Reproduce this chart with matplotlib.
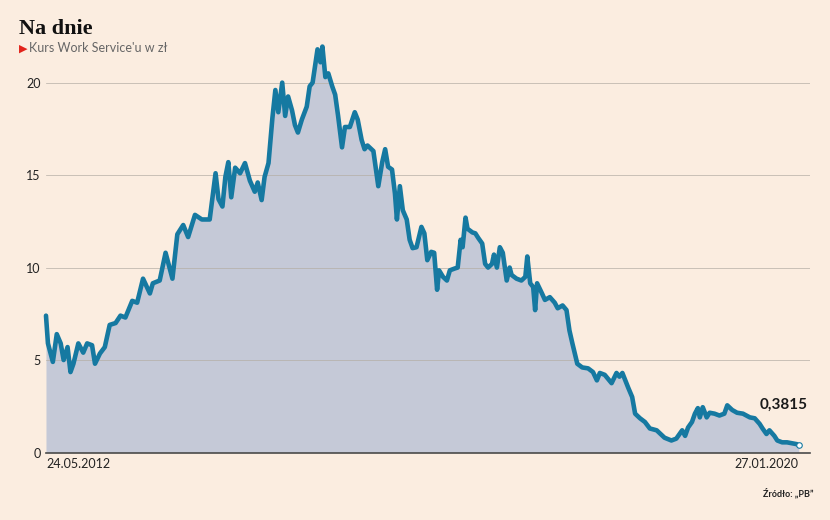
import matplotlib
matplotlib.use("Agg")
import matplotlib.pyplot as plt
import numpy as np
import pandas as pd

# dates as decimal years
years = [
    2012.39, 2012.41, 2012.46, 2012.50, 2012.54, 2012.57, 2012.61, 2012.64, 2012.67, 2012.72,
    2012.77, 2012.81, 2012.86, 2012.89, 2012.94, 2012.99, 2013.04, 2013.10, 2013.15, 2013.20,
    2013.27, 2013.32, 2013.38, 2013.45, 2013.48, 2013.55, 2013.61, 2013.68, 2013.73, 2013.79,
    2013.84, 2013.91, 2013.98, 2014.06, 2014.12, 2014.15, 2014.19, 2014.22, 2014.25, 2014.28,
    2014.32, 2014.37, 2014.42, 2014.47, 2014.52, 2014.55, 2014.59, 2014.62, 2014.66, 2014.70,
    2014.73, 2014.76, 2014.80, 2014.83, 2014.86, 2014.90, 2014.93, 2014.96, 2015.00, 2015.05,
    2015.08, 2015.11, 2015.16, 2015.19, 2015.21, 2015.24, 2015.27, 2015.31, 2015.34, 2015.37,
    2015.41, 2015.44, 2015.49, 2015.54, 2015.57, 2015.61, 2015.64, 2015.67, 2015.73, 2015.78,
    2015.82, 2015.85, 2015.88, 2015.92, 2015.95, 2015.97, 2016.00, 2016.03, 2016.07, 2016.10,
    2016.13, 2016.17, 2016.22, 2016.25, 2016.28, 2016.32, 2016.35, 2016.38, 2016.40, 2016.44,
    2016.48, 2016.51, 2016.56, 2016.59, 2016.62, 2016.64, 2016.67, 2016.69, 2016.74, 2016.77,
    2016.80, 2016.84, 2016.87, 2016.90, 2016.94, 2016.96, 2016.99, 2017.02, 2017.05, 2017.09,
    2017.12, 2017.14, 2017.19, 2017.24, 2017.28, 2017.30, 2017.33, 2017.36, 2017.38, 2017.40,
    2017.45, 2017.48, 2017.53, 2017.58, 2017.61, 2017.66, 2017.70, 2017.73, 2017.76, 2017.81,
    2017.86, 2017.92, 2017.97, 2018.01, 2018.04, 2018.09, 2018.16, 2018.21, 2018.24, 2018.27,
    2018.33, 2018.37, 2018.40, 2018.45, 2018.50, 2018.55, 2018.62, 2018.70, 2018.77, 2018.82,
    2018.88, 2018.91, 2018.94, 2018.98, 2019.01, 2019.04, 2019.06, 2019.09, 2019.13, 2019.16,
    2019.21, 2019.26, 2019.31, 2019.34, 2019.39, 2019.44, 2019.50, 2019.57, 2019.62, 2019.67,
    2019.70, 2019.74, 2019.77, 2019.82, 2019.85, 2019.90, 2019.95, 2020.00, 2020.05, 2020.07,
]

price = [
    7.4, 5.9, 4.9, 6.4, 5.9, 5.0, 5.7, 4.35, 4.8, 5.9,
    5.4, 5.9, 5.8, 4.8, 5.35, 5.7, 6.9, 7.0, 7.4, 7.3,
    8.2, 8.1, 9.4, 8.6, 9.15, 9.3, 10.8, 9.4, 11.8, 12.3,
    11.65, 12.85, 12.6, 12.6, 15.1, 13.7, 13.3, 14.9, 15.7, 13.8,
    15.4, 15.1, 15.65, 14.7, 14.1, 14.6, 13.65, 14.9, 15.65, 18.1,
    19.6, 18.4, 20.0, 18.2, 19.25, 18.5, 17.7, 17.3, 18.0, 18.7,
    19.8, 20.0, 21.8, 21.1, 21.95, 20.3, 20.5, 19.8, 19.35, 18.2,
    16.5, 17.6, 17.6, 18.4, 18.0, 16.9, 16.4, 16.6, 16.3, 14.4,
    15.7, 16.4, 15.45, 15.3, 14.0, 12.6, 14.4, 13.1, 12.6, 11.5,
    11.05, 11.1, 12.2, 11.85, 10.4, 10.85, 10.8, 8.8, 9.85, 9.5,
    9.3, 9.85, 9.95, 10.0, 11.5, 11.1, 12.7, 12.1, 11.9, 11.85,
    11.6, 11.3, 10.2, 10.0, 10.2, 10.7, 10.0, 11.1, 10.8, 9.3,
    10.0, 9.6, 9.4, 9.3, 9.5, 10.6, 9.15, 8.95, 7.7, 9.15,
    8.6, 8.25, 8.4, 8.1, 7.8, 7.95, 7.7, 6.6, 5.9, 4.8,
    4.6, 4.55, 4.35, 3.9, 4.3, 4.2, 3.75, 4.3, 4.1, 4.3,
    3.5, 3.0, 2.1, 1.85, 1.65, 1.3, 1.2, 0.8, 0.65, 0.75,
    1.2, 0.9, 1.35, 1.65, 2.1, 2.4, 1.9, 2.45, 1.9, 2.15,
    2.1, 2.0, 2.1, 2.55, 2.3, 2.15, 2.1, 1.9, 1.85, 1.55,
    1.3, 1.0, 1.2, 0.9, 0.65, 0.55, 0.55, 0.5, 0.45, 0.3815,
]

y_ticks = [0, 5, 10, 15, 20]
x_labels = ["24.05.2012", "27.01.2020"]
last_label = "0,3815"

BG = "#fbede0"
LINE = "#1679a1"
FILL = "#c5c9d7"

x = np.array(years)
y = np.array(price)

plt.rcParams['font.family'] = ['Lato', 'DejaVu Sans']

fig = plt.figure(figsize=(8.3, 5.2), dpi=100, facecolor=BG)
ax = fig.add_axes([0.0554, 0.1298, 0.9205, 0.818])
ax.set_facecolor(BG)

ax.fill_between(x, 0, y, color=FILL, linewidth=0, zorder=1)
for t in y_ticks[1:]:
    ax.axhline(t, color="#b5aea6", linewidth=0.5, zorder=2)
ax.plot(x, y, color=LINE, linewidth=3.3, solid_joinstyle="round",
        solid_capstyle="round", zorder=3, clip_on=False)
ax.plot(x[-1], y[-1], marker="o", markersize=4, markerfacecolor="white",
        markeredgecolor=LINE, markeredgewidth=0.8, zorder=4, clip_on=False)

ax.annotate(last_label, (x[-1], y[-1]), xytext=(6, 29), textcoords="offset points",
            ha="right", va="center", fontsize=11, fontweight="bold", color="#1a1a1a")

ax.set_xlim(2012.392, 2020.184)
ax.set_ylim(0, 23)

for s in ["top", "right", "left"]:
    ax.spines[s].set_visible(False)
ax.spines["bottom"].set_color("#4a4a4a")
ax.spines["bottom"].set_linewidth(1.2)
ax.spines["bottom"].set_zorder(5)

ax.set_yticks(y_ticks)
ax.set_yticklabels([str(t) for t in y_ticks], fontsize=9, color="#222222")
ax.tick_params(axis="y", length=0, pad=4)

ax.set_xticks([x[0], x[-1]])
ax.set_xticklabels(x_labels, fontsize=9, color="#222222")
ax.tick_params(axis="x", length=0, pad=4)
xt = ax.get_xticklabels()
xt[0].set_ha("left")
xt[1].set_ha("right")

fig.text(19 / 830, 1 - 29 / 520, "Na dnie", fontsize=16, fontweight="bold",
         family="Liberation Serif", color="#111111", va="center", ha="left")
fig.text(18.5 / 830, 1 - 48.5 / 520, "\u25B6", fontsize=8, color="#e2231a",
         va="center", ha="left", family="DejaVu Sans")
fig.text(29 / 830, 1 - 48.5 / 520, "Kurs Work Service'u w zł", fontsize=9,
         color="#666666", va="center", ha="left")
fig.text(813 / 830, 1 - 493 / 520, "Źródło: „PB\u201d", fontsize=6.5, fontweight="bold",
         color="#222222", va="center", ha="right")

fig.savefig("out.png", dpi=100, facecolor=BG)
